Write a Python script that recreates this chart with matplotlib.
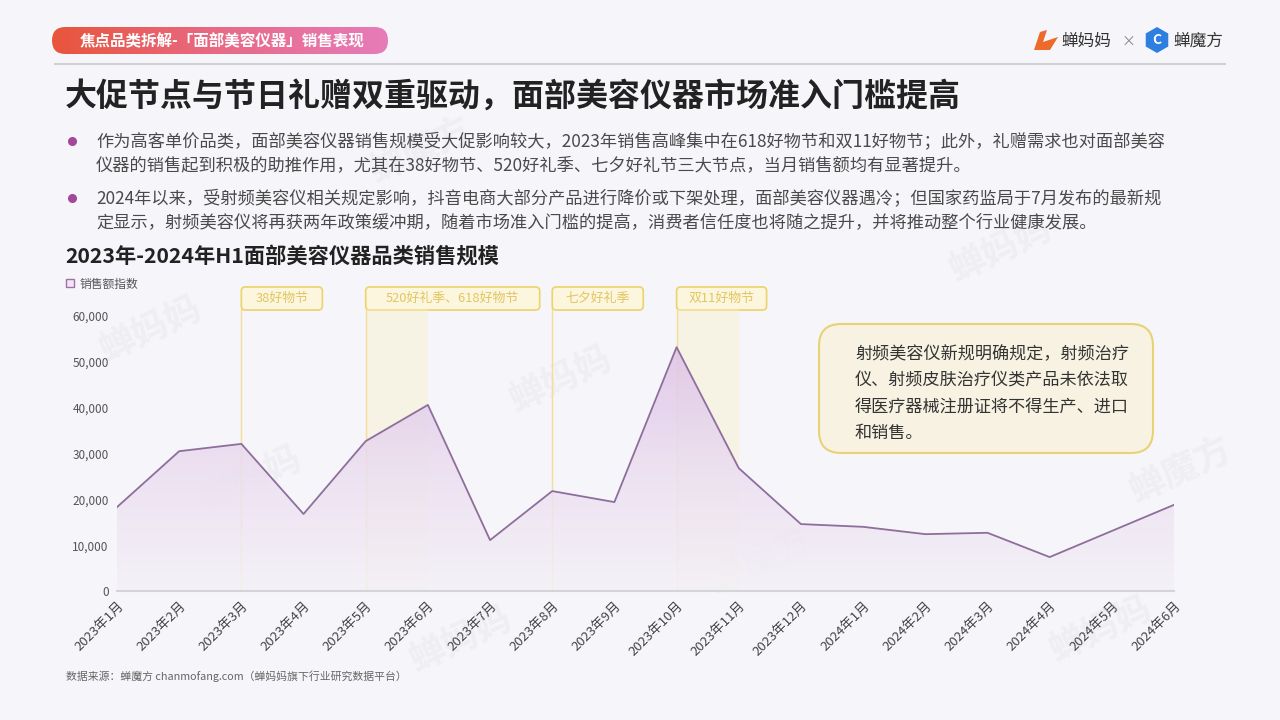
import numpy as np
import matplotlib.pyplot as plt
from matplotlib.patches import FancyBboxPatch, Rectangle, Polygon, RegularPolygon
from matplotlib.colors import LinearSegmentedColormap

plt.rcParams['font.family'] = ['Noto Sans CJK SC', 'DejaVu Sans']

# data
months = ['2023年1月', '2023年2月', '2023年3月', '2023年4月', '2023年5月', '2023年6月',
          '2023年7月', '2023年8月', '2023年9月', '2023年10月', '2023年11月', '2023年12月',
          '2024年1月', '2024年2月', '2024年3月', '2024年4月', '2024年5月', '2024年6月']
sales = [18300, 30500, 32100, 16800, 32700, 40600, 11100, 21800, 19400, 53200,
         26800, 14600, 14000, 12400, 12700, 7400, 13100, 18800]
yticks = [0, 10000, 20000, 30000, 40000, 50000, 60000]

# festival markers: (label, start index, end index)
festivals = [('38好物节', 2, 2), ('520好礼季、618好物节', 4, 5),
             ('七夕好礼季', 7, 7), ('双11好物节', 9, 10)]
box_widths = [81, 174, 91, 90]

header = '焦点品类拆解-「面部美容仪器」销售表现'
title = '大促节点与节日礼赠双重驱动，面部美容仪器市场准入门槛提高'
bullets = [
    ['作为高客单价品类，面部美容仪器销售规模受大促影响较大，2023年销售高峰集中在618好物节和双11好物节；此外，礼赠需求也对面部美容',
     '仪器的销售起到积极的助推作用，尤其在38好物节、520好礼季、七夕好礼节三大节点，当月销售额均有显著提升。'],
    ['2024年以来，受射频美容仪相关规定影响，抖音电商大部分产品进行降价或下架处理，面部美容仪器遇冷；但国家药监局于7月发布的最新规',
     '定显示，射频美容仪将再获两年政策缓冲期，随着市场准入门槛的提高，消费者信任度也将随之提升，并将推动整个行业健康发展。'],
]
chart_title = '2023年-2024年H1面部美容仪器品类销售规模'
note_lines = ['射频美容仪新规明确规定，射频治疗', '仪、射频皮肤治疗仪类产品未依法取',
              '得医疗器械注册证将不得生产、进口', '和销售。']
source = '数据来源：蝉魔方 chanmofang.com（蝉妈妈旗下行业研究数据平台）'

W, H = 1280, 720
BG = '#f6f5f9'
fig = plt.figure(figsize=(12.8, 7.2), dpi=100, facecolor=BG)

hax = fig.add_axes([0, 0, 1, 1], facecolor='none')
hax.set_xlim(0, W)
hax.set_ylim(H, 0)
hax.axis('off')

# faint watermarks
for wx, wy, wt in [(150, 330, '蝉妈妈'), (420, 150, '蝉魔方'), (560, 380, '蝉妈妈'),
                   (250, 480, '蝉妈妈'), (760, 560, '蝉魔方'), (1180, 470, '蝉魔方'),
                   (1000, 250, '蝉妈妈'), (460, 640, '蝉妈妈'), (1100, 630, '蝉妈妈')]:
    hax.text(wx, wy, wt, fontsize=26, color='#e9e9ee', alpha=0.55, rotation=25,
             ha='center', va='center', fontweight='bold', zorder=0)

# header pill with gradient
pill = FancyBboxPatch((52, 27), 336, 27, boxstyle='round,pad=0,rounding_size=13.5',
                      facecolor='none', edgecolor='none')
hax.add_patch(pill)
grad = np.linspace(0, 1, 256).reshape(1, -1)
pcmap = LinearSegmentedColormap.from_list('pill', ['#e8553c', '#e86a86', '#e67cba'])
im = hax.imshow(grad, extent=(52, 388, 54, 27), cmap=pcmap, aspect='auto', zorder=1)
im.set_clip_path(pill)
hax.text(222, 41, header, color='white', fontsize=11.2, fontweight='bold',
         ha='center', va='center', zorder=2)
hax.plot([55, 1225], [64, 64], color='#cfcfd6', lw=1.5)

# logos
hax.add_patch(Polygon([[1034, 50], [1040, 32], [1047, 30], [1043, 42], [1058, 37],
                       [1050, 50]], closed=True, facecolor='#ec6a2a', edgecolor='none'))
hax.text(1061, 41, '蝉妈妈', fontsize=12, color='#333333', va='center')
hax.text(1128, 42, '×', fontsize=10, color='#888888', va='center', ha='center')
hax.add_patch(RegularPolygon((1157, 40), 6, radius=13, facecolor='#2f7fe0', edgecolor='none'))
hax.text(1157, 40.5, 'C', fontsize=10, color='white', fontweight='bold', ha='center', va='center')
hax.text(1173, 41, '蝉魔方', fontsize=12, color='#333333', va='center')

# title and bullets
hax.text(65, 97, title, fontsize=23, fontweight='bold', color='#222222', va='center')
line_y = [[141, 165], [198, 222]]
for blines, ys in zip(bullets, line_y):
    hax.plot(72, ys[0], 'o', color='#a2479a', ms=5.5)
    for t, y in zip(blines, ys):
        hax.text(96, y, t, fontsize=12.4, color='#4a4a4a', va='center')

hax.text(65, 256, chart_title, fontsize=15.3, fontweight='bold', color='#222222', va='center')
hax.add_patch(Rectangle((66, 279), 8, 8, facecolor='#f3e6f4', edgecolor='#a070a8', lw=1))
hax.text(80, 284, '销售额指数', fontsize=8.5, color='#555555', va='center')
hax.text(66, 676, source, fontsize=7.8, color='#666666', va='center')

# main chart
x0, x1, ybot, ytop = 117, 1174, 591, 309
ymax = 60000 * (ybot - ytop) / (ybot - 316)
ax = fig.add_axes([x0 / W, 1 - ybot / H, (x1 - x0) / W, (ybot - ytop) / H], facecolor='none')
x = np.arange(len(months))
ax.set_xlim(0, len(months) - 1)
ax.set_ylim(0, ymax)

# festival bands
for (lab, i0, i1), bw in zip(festivals, box_widths):
    if i1 > i0:
        ax.axvspan(i0, i1, color='#f8f1c8', alpha=0.4, lw=0, zorder=1)
    ax.axvline(i0, color='#f3dd98', lw=1, zorder=1)
    xl = x0 + i0 * (x1 - x0) / (len(months) - 1)
    hax.add_patch(FancyBboxPatch((xl, 287), bw, 23, boxstyle='round,pad=0,rounding_size=4',
                                 facecolor='#fbf6dd', edgecolor='#ecd36a', lw=1.2, zorder=3))
    hax.text(xl + bw / 2, 298.5, lab, fontsize=9.3, color='#e2c660', ha='center', va='center', zorder=4)

# gradient fill under the line
verts = [(0, 0)] + list(zip(x, sales)) + [(len(months) - 1, 0)]
fill = Polygon(verts, closed=True, facecolor='none', edgecolor='none')
ax.add_patch(fill)
gcmap = LinearSegmentedColormap.from_list('fill', ['#f4f1f7', '#ebddf0', '#dcc0e6'])
g = np.linspace(0, 1, 256).reshape(-1, 1)
gim = ax.imshow(g, extent=(0, len(months) - 1, 0, 55000), origin='lower', cmap=gcmap,
                aspect='auto', zorder=2, alpha=0.85)
gim.set_clip_path(fill)
ax.plot(x, sales, color='#8e6e9c', lw=1.3, zorder=4)

ax.set_yticks(yticks)
ax.set_yticklabels([f'{v:,}' for v in yticks], fontsize=8.5, color='#555555')
ax.set_xticks(x)
ax.set_xticklabels(months, rotation=45, ha='right', rotation_mode='anchor',
                   fontsize=9.5, color='#444444')
ax.tick_params(length=0, pad=6)
for s in ['top', 'right', 'left']:
    ax.spines[s].set_visible(False)
ax.spines['bottom'].set_color('#d4d4da')
ax.spines['bottom'].set_linewidth(1.5)

# note box
hax.add_patch(FancyBboxPatch((819, 324), 334, 129, boxstyle='round,pad=0,rounding_size=22',
                             facecolor='#f7f2e2', edgecolor='#e8d374', lw=1.5, zorder=5))
for i, t in enumerate(note_lines):
    hax.text(855, 354 + i * 26.3, t, fontsize=12.3, color='#333333', va='center', zorder=6)

fig.savefig('out.png', dpi=100, facecolor=BG)
